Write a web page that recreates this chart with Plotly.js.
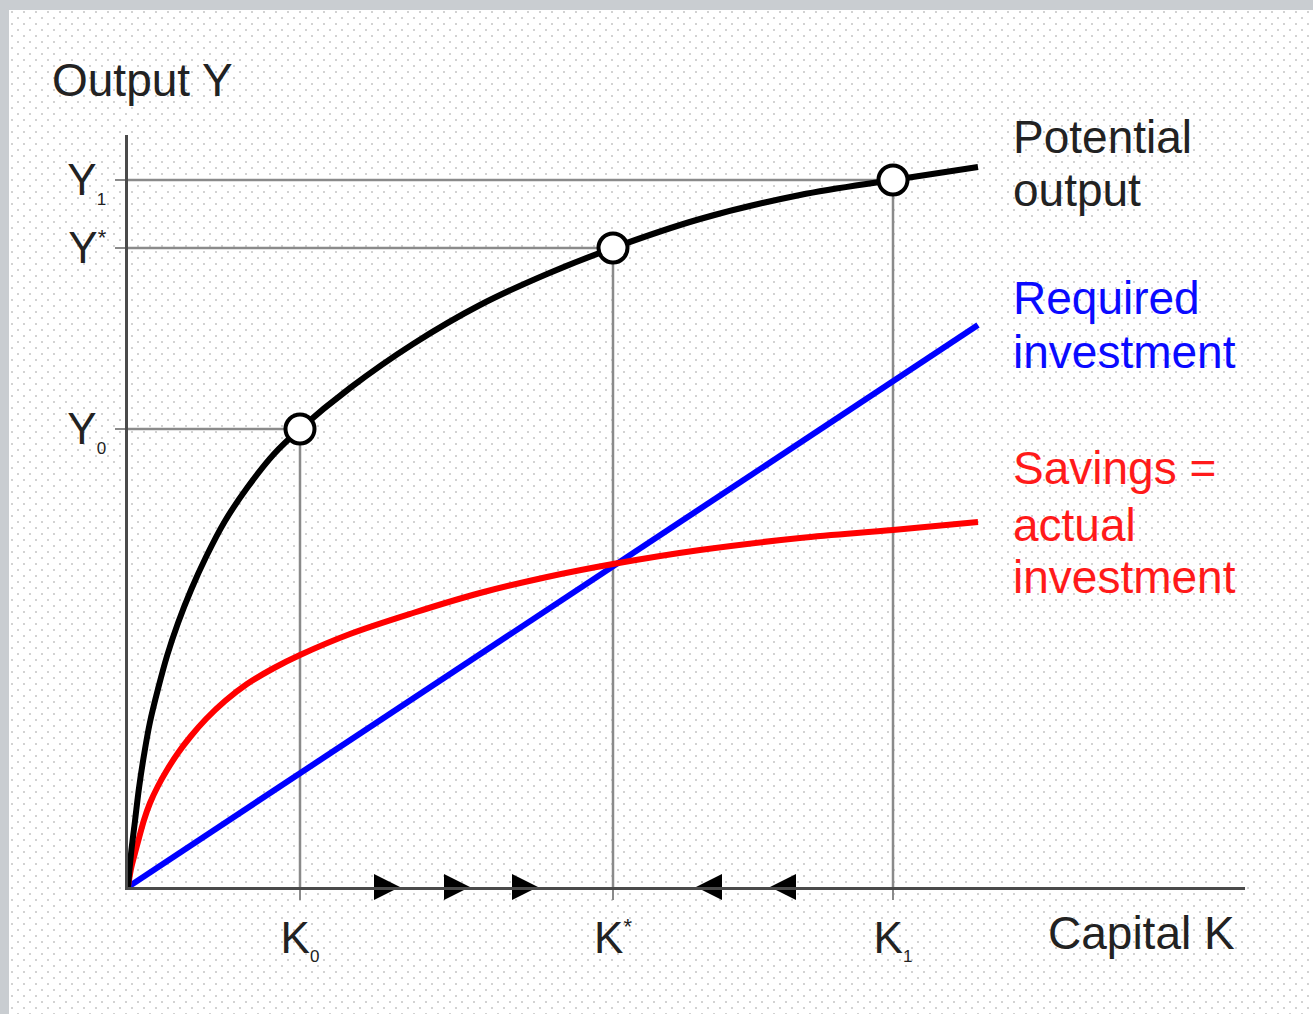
<!DOCTYPE html>
<html>
<head>
<meta charset="utf-8">
<script src="https://cdn.plot.ly/plotly-3.0.1.min.js"></script>
<style>
html,body{margin:0;padding:0;}
body{width:1313px;height:1014px;overflow:hidden;
background:
 linear-gradient(#c9cdd1,#c9cdd1) 0 0/100% 10px no-repeat,
 linear-gradient(#c9cdd1,#c9cdd1) 0 0/9px 100% no-repeat,
 radial-gradient(circle, #d2d2d2 0.9px, rgba(255,255,255,0) 1.4px) 0 0/12px 12px,
 radial-gradient(circle, #d2d2d2 0.9px, rgba(255,255,255,0) 1.4px) 6px 6px/12px 12px,
 #ffffff;}
#chart{width:1313px;height:1014px;}
</style>
</head>
<body>
<div id="chart"></div>
<script>
// ---- data (units: capital K, output Y) ----
const potentialK = [0, 0.03, 0.07, 0.11, 0.16, 0.22, 0.30, 0.39, 0.50, 0.63, 0.78, 0.97, 1.19, 1.46, 1.72, 2.22, 2.85, 3.52, 4.19, 4.85, 5.72, 6.72, 7.65, 8.50];
const potentialY = [0, 0.33, 0.66, 0.99, 1.32, 1.65, 1.98, 2.31, 2.64, 2.97, 3.30, 3.66, 3.99, 4.33, 4.58, 4.99, 5.43, 5.82, 6.13, 6.39, 6.68, 6.92, 7.07, 7.20];

const savingsK = [0, 0.03, 0.07, 0.11, 0.16, 0.22, 0.30, 0.39, 0.50, 0.63, 0.78, 0.97, 1.19, 1.46, 1.72, 2.22, 2.85, 3.52, 4.19, 4.85, 5.72, 6.72, 7.65, 8.50];
const savingsY = [0, 0.18, 0.34, 0.49, 0.67, 0.84, 1.01, 1.17, 1.34, 1.51, 1.68, 1.86, 2.03, 2.19, 2.32, 2.53, 2.74, 2.94, 3.10, 3.23, 3.37, 3.49, 3.57, 3.65];

const requiredK = [0, 8.50];
const requiredY = [0, 5.62];

const pointK = [1.72, 4.85, 7.65];   // K0, K*, K1
const pointY = [4.58, 6.39, 7.07];   // Y0, Y*, Y1

const kTickText = ['K<sub><span style="font-size:17px">0</span></sub>',
                   'K<sup><span style="font-size:22px">*</span></sup>',
                   'K<sub><span style="font-size:17px">1</span></sub>'];
const yTickText = ['Y<sub><span style="font-size:17px">0</span></sub>',
                   'Y<sup><span style="font-size:22px">*</span></sup>',
                   'Y<sub><span style="font-size:17px">1</span></sub>'];

const flowRightK = [2.72, 3.42, 4.10];
const flowLeftK = [5.68, 6.42];

const X_MAX = 11.17, Y_MAX = 7.52;

// ---- traces ----
const FONT = 'Liberation Sans, Arial, sans-serif';
const traces = [];
for (let i = 0; i < pointK.length; i++) {
  traces.push({x: [0, pointK[i], pointK[i]], y: [pointY[i], pointY[i], 0],
    mode: 'lines', line: {color: '#8a8a8a', width: 2.5}, hoverinfo: 'skip', showlegend: false});
}
traces.push({x: requiredK, y: requiredY, mode: 'lines', line: {color: '#0000ff', width: 6}, showlegend: false});
traces.push({x: savingsK, y: savingsY, mode: 'lines', line: {color: '#ff0000', width: 6, shape: 'spline', smoothing: 1}, showlegend: false});
traces.push({x: potentialK, y: potentialY, mode: 'lines', line: {color: '#000000', width: 6, shape: 'spline', smoothing: 1}, showlegend: false});
traces.push({x: pointK, y: pointY, mode: 'markers',
  marker: {symbol: 'circle', size: 29, color: '#ffffff', line: {color: '#000000', width: 4}}, showlegend: false});
traces.push({x: flowRightK, y: flowRightK.map(() => 0), mode: 'markers', cliponaxis: false,
  marker: {symbol: 'arrow-right', size: 26, color: '#000000', line: {width: 0}}, showlegend: false});
traces.push({x: flowLeftK, y: flowLeftK.map(() => 0), mode: 'markers', cliponaxis: false,
  marker: {symbol: 'arrow-left', size: 26, color: '#000000', line: {width: 0}}, showlegend: false});

function lab(text, k, y, color) {
  return {text: text, xref: 'paper', yref: 'paper', x: k / X_MAX, y: y / Y_MAX,
    xanchor: 'left', yanchor: 'middle', showarrow: false,
    font: {family: FONT, size: 46, color: color}};
}
const annotations = [
  lab('Output Y', -0.78, 8.07, '#222222'),
  lab('Potential', 8.83, 7.50, '#222222'),
  lab('output', 8.83, 6.97, '#222222'),
  lab('Required', 8.83, 5.89, '#0a0aff'),
  lab('investment', 8.83, 5.35, '#0a0aff'),
  lab('Savings =', 8.83, 4.19, '#ff1a1a'),
  lab('actual', 8.83, 3.62, '#ff1a1a'),
  lab('investment', 8.83, 3.10, '#ff1a1a'),
  lab('Capital K', 9.18, -0.46, '#222222')
];

const layout = {
  width: 1313, height: 1014,
  margin: {l: 128, r: 68, t: 135, b: 127, pad: 0},
  paper_bgcolor: 'rgba(0,0,0,0)', plot_bgcolor: 'rgba(0,0,0,0)',
  showlegend: false,
  xaxis: {range: [0, X_MAX], showgrid: false, zeroline: false, showline: true,
    linecolor: '#4a4a4a', linewidth: 3, ticks: 'outside', ticklen: 10, tickwidth: 2.5, tickcolor: '#8a8a8a',
    tickvals: pointK, ticktext: kTickText, tickfont: {family: FONT, size: 44, color: '#222222'}, fixedrange: true},
  yaxis: {range: [0, Y_MAX], showgrid: false, zeroline: false, showline: true,
    linecolor: '#4a4a4a', linewidth: 3, ticks: 'outside', ticklen: 10, tickwidth: 2.5, tickcolor: '#8a8a8a',
    tickvals: pointY, ticktext: yTickText, tickfont: {family: FONT, size: 44, color: '#222222'}, fixedrange: true},
  annotations: annotations
};

Plotly.newPlot('chart', traces, layout, {staticPlot: true, displayModeBar: false});
</script>
</body>
</html>
